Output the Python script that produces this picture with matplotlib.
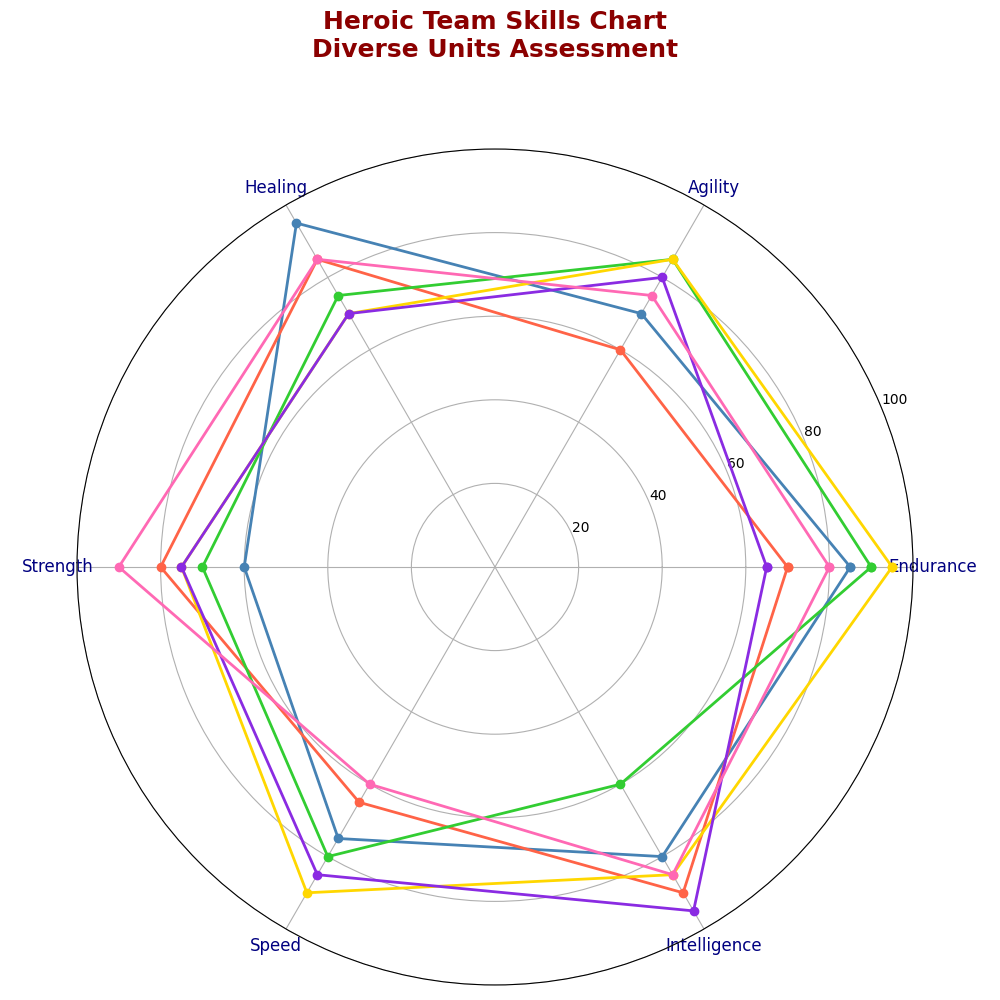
import matplotlib.pyplot as plt
import numpy as np

# Skill categories (counter-clockwise from the right)
skills = ["Endurance", "Agility", "Healing", "Strength", "Speed", "Intelligence"]

# Unit scores, one list per unit
unit_blue = [85, 70, 95, 60, 75, 80]
unit_red = [70, 60, 85, 80, 65, 90]
unit_green = [90, 85, 75, 70, 80, 60]
unit_yellow = [95, 85, 70, 75, 90, 85]
unit_purple = [65, 80, 70, 75, 85, 95]
unit_pink = [80, 75, 85, 90, 60, 85]

units = [unit_blue, unit_red, unit_green, unit_yellow, unit_purple, unit_pink]
colors = ["#4682B4", "#FF6347", "#32CD32", "#FFD700", "#8A2BE2", "#FF69B4"]

angles = np.linspace(0, 2 * np.pi, len(skills), endpoint=False).tolist()
angles += angles[:1]

fig = plt.figure(figsize=(10, 10))
ax = fig.add_axes([0.077, 0.015, 0.836, 0.836], polar=True)

for vals, c in zip(units, colors):
    v = vals + vals[:1]
    ax.plot(angles, v, color=c, linewidth=2, marker="o", markersize=6)

ax.set_ylim(0, 100)
ax.set_yticks([20, 40, 60, 80, 100])
ax.set_yticklabels(["20", "40", "60", "80", "100"])
ax.set_xticks(angles[:-1])
ax.set_xticklabels(skills, color="navy", fontsize=12)

ax.set_title("Heroic Team Skills Chart\nDiverse Units Assessment",
             fontsize=18, fontweight="bold", color="darkred", y=1.1)

plt.savefig("out.png", dpi=100)
